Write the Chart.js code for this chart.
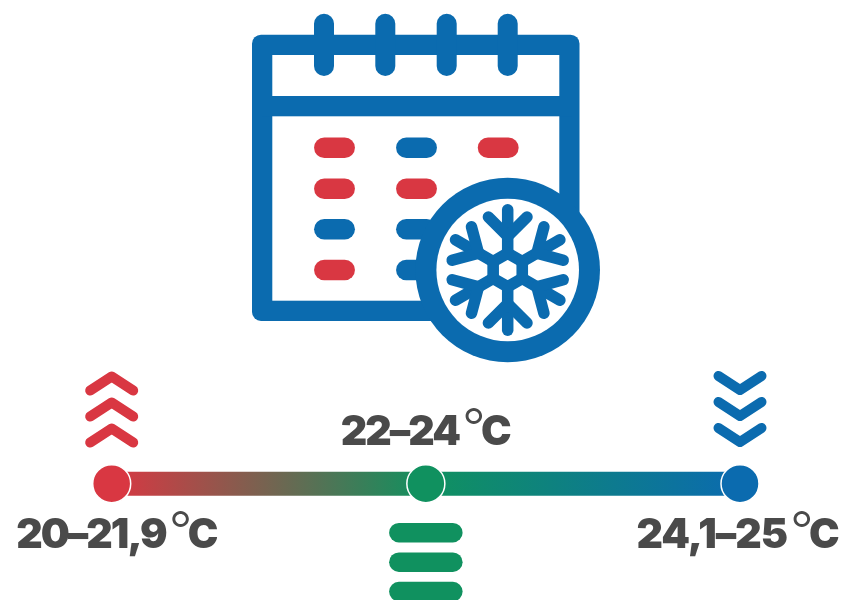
<!DOCTYPE html>
<html>
<head>
<meta charset="utf-8">
<style>
  html, body { margin: 0; padding: 0; background: #fff; }
  canvas { display: block; }
</style>
</head>
<body>
<canvas id="chart" width="843" height="600"></canvas>
<script src="https://cdn.jsdelivr.net/npm/chart.js@4/dist/chart.umd.min.js"></script>
<script>
const categories = ['20–21,9', '22–24', '24,1–25'];
const unitDegree = '°';
const unitLetter = 'C';
const levels = [0, 0, 0];
const trends = ['up', 'flat', 'down'];
const calendarRows = [
  ['red', 'blue', 'red'],
  ['red', 'red'],
  ['blue', 'blue'],
  ['red', 'blue']
];

const RED = '#d93742';
const GREEN = '#10915f';
const BLUE = '#0b6baf';
const TEXT = '#4a4a4a';
const pointColors = [RED, GREEN, BLUE];
const pillColors = { red: RED, blue: BLUE };

function stroke(c, pts, width, color, cap) {
  c.beginPath();
  pts.forEach((p, i) => i ? c.lineTo(p[0], p[1]) : c.moveTo(p[0], p[1]));
  c.lineWidth = width;
  c.strokeStyle = color;
  c.lineCap = cap || 'round';
  c.lineJoin = 'round';
  c.stroke();
}

function drawCalendar(c) {
  c.fillStyle = BLUE;
  c.beginPath();
  c.roundRect(252, 34.7, 327.5, 286.3, 9);
  c.fill();
  c.fillStyle = '#fff';
  c.fillRect(272.3, 55, 287, 245.7);
  c.fillStyle = BLUE;
  c.fillRect(262, 96, 310, 20.3);
  [324, 385.3, 446.7, 507.7].forEach(x => stroke(c, [[x, 23.7], [x, 66]], 20, BLUE));

  const colX = [324.3, 406.3, 488];
  const rowY = [147.7, 188.7, 229.3, 270];
  calendarRows.forEach((row, r) => row.forEach((name, i) => {
    stroke(c, [[colX[i], rowY[r]], [colX[i] + 20.4, rowY[r]]], 20.5, pillColors[name]);
  }));
}

function drawSnowflake(c) {
  const cx = 507.7, cy = 270;
  c.fillStyle = BLUE;
  c.beginPath();
  c.arc(cx, cy, 92.3, 0, Math.PI * 2);
  c.fill();
  c.fillStyle = '#fff';
  c.beginPath();
  c.arc(cx, cy, 71.3, 0, Math.PI * 2);
  c.fill();

  c.save();
  c.translate(cx, cy);
  for (let i = 0; i < 6; i++) {
    stroke(c, [[0, -16], [0, -60.3]], 11.5, BLUE);
    stroke(c, [[-19.3, -53], [0, -33.7], [19.3, -53]], 11.5, BLUE);
    c.rotate(Math.PI / 3);
  }
  c.beginPath();
  for (let i = 0; i < 6; i++) {
    const a = i * Math.PI / 3;
    c.lineTo(16.8 * Math.sin(a), -16.8 * Math.cos(a));
  }
  c.closePath();
  c.lineWidth = 11.6;
  c.strokeStyle = BLUE;
  c.lineJoin = 'miter';
  c.stroke();
  c.restore();
}

function drawTrend(c, trend, x) {
  if (trend === 'flat') {
    [532.7, 562.2, 591.6].forEach(y => stroke(c, [[x - 27, y], [x + 27, y]], 19.5, GREEN));
    return;
  }
  const up = trend === 'up';
  const color = up ? RED : BLUE;
  const apexes = up ? [376.5, 402.5, 428.5] : [390, 416, 442];
  apexes.forEach(y => {
    const endY = up ? y + 14 : y - 14;
    stroke(c, [[x - 21.5, endY], [x, y], [x + 21.5, endY]], 10, color);
  });
}

function drawLabel(c, text, left, baseY, spacing) {
  const bold = '900 41px Inter';
  const thin = '300 52px Inter';
  c.textBaseline = 'alphabetic';
  c.textAlign = 'left';
  c.fillStyle = TEXT;
  c.letterSpacing = spacing;
  c.font = bold;
  c.fillText(text, left, baseY);
  const w1 = c.measureText(text).width;
  c.letterSpacing = '0px';
  c.font = thin;
  c.fillText(unitDegree, left + w1 + 3, baseY + 1);
  c.font = bold;
  c.fillText(unitLetter, left + w1 + 22, baseY);
}

const infographic = {
  id: 'infographic',
  beforeDatasetsDraw(chart) {
    const c = chart.ctx;
    c.save();
    drawCalendar(c);
    drawSnowflake(c);
    trends.forEach((t, i) => drawTrend(c, t, chart.scales.x.getPixelForValue(i)));
    c.restore();
  },
  afterDatasetsDraw(chart) {
    const c = chart.ctx;
    const offsets = [-95.5, -85, -103.5];
    const bases = [548, 445, 548];
    const spacings = ['-2px', '-2px', '-1px'];
    c.save();
    categories.forEach((label, i) => {
      drawLabel(c, label, chart.scales.x.getPixelForValue(i) + offsets[i], bases[i], spacings[i]);
    });
    c.restore();
  }
};

function railGradient(context) {
  const { chart } = context;
  if (!chart.chartArea) return GREEN;
  const g = chart.ctx.createLinearGradient(chart.chartArea.left, 0, chart.chartArea.right, 0);
  g.addColorStop(0, RED);
  g.addColorStop(0.5, GREEN);
  g.addColorStop(1, BLUE);
  return g;
}

new Chart(document.getElementById('chart'), {
  type: 'line',
  data: {
    labels: categories,
    datasets: [{
      data: levels,
      borderColor: railGradient,
      borderWidth: 24,
      borderCapStyle: 'butt',
      tension: 0,
      clip: false,
      pointRadius: 19,
      pointBackgroundColor: pointColors,
      pointBorderColor: '#fff',
      pointBorderWidth: 1.5
    }]
  },
  options: {
    responsive: false,
    animation: false,
    layout: { autoPadding: false, padding: { left: 111.7, right: 103, top: 367.4, bottom: 0 } },
    plugins: { legend: { display: false }, tooltip: { enabled: false } },
    scales: {
      x: { display: false },
      y: { display: false, min: -1, max: 1 }
    }
  },
  plugins: [infographic]
});
</script>
</body>
</html>
